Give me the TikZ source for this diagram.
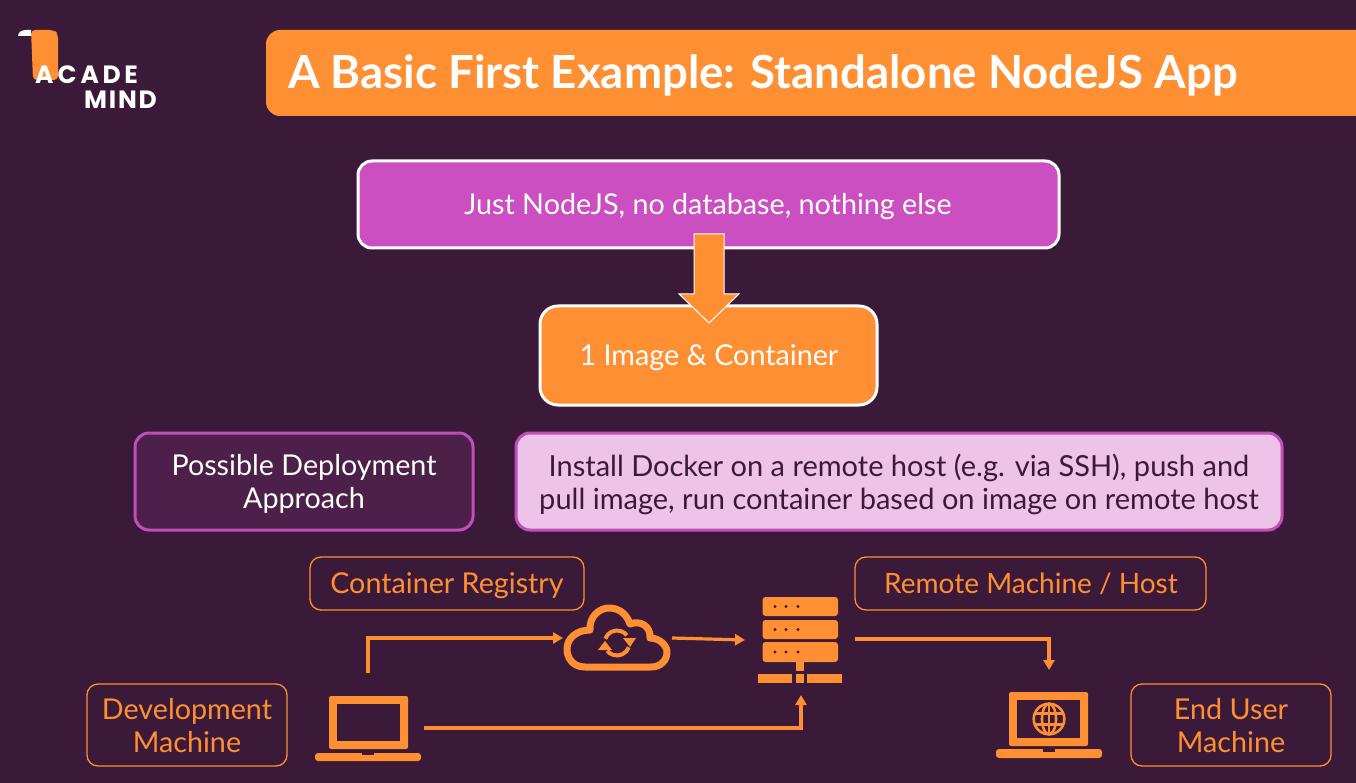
\documentclass[tikz,border=0pt]{standalone}
\usepackage{fontspec}
\setmainfont{Lato}
\newfontfamily\logofont{Poppins}
\usetikzlibrary{arrows.meta}
\definecolor{bg}{HTML}{3A1A38}
\definecolor{org}{HTML}{FF8F33}
\definecolor{pur}{HTML}{CC4FC1}
\definecolor{purb}{HTML}{BF50B8}
\definecolor{dpur}{HTML}{4C2049}
\definecolor{lpur}{HTML}{EDC3E9}
\tikzset{
  txt/.style={align=center,font=\fontsize{28.7}{33}\selectfont,inner sep=0pt},
  box/.style={rounded corners=#1,line width=3pt},
  box/.default=14pt,
  obox/.style={rounded corners=11pt,draw=org,line width=1.3pt},
  link/.style={draw=org,line width=3.2pt,-{Triangle[length=10pt,width=11pt]}},
  icon/.style={fill=org,draw=none},
  hole/.style={fill=bg,draw=none},
}
\begin{document}
\begin{tikzpicture}[x=1pt,y=-1pt]
\useasboundingbox (0,0) rectangle (1356,783);
\fill[bg] (0,0) rectangle (1356,783);
% logo
\fill[org,rounded corners=4pt] (31,30) -- (54,30) -- (58,34) -- (58,80) -- (33,80) -- cycle;
\fill[white] (18,36) .. controls (18,32) and (22,30) .. (26,30) -- (31,30) -- (31,36) -- cycle;
\node[inner sep=0pt,anchor=west,text=white] (logoa) at (35,75) {\logofont\bfseries\fontsize{25}{25}\selectfont A\kern4pt C\kern4pt A\kern3.5pt D\kern3.5pt E};
\node[inner sep=0pt,anchor=west,text=white] (logob) at (84,100) {\logofont\bfseries\fontsize{25}{25}\selectfont M\kern1.8pt I\kern1.8pt N\kern1.8pt D};
% title
\fill[org,rounded corners=14pt] (1400,30) -- (266,30) -- (266,116) -- (1400,116) -- cycle;
\node[anchor=west,inner sep=0pt,text=white] (title) at (288,75) {\fontsize{45.6}{50}\selectfont\bfseries A Basic First Example: Standalone NodeJS App};
% main boxes
\draw[box,draw=white,fill=pur] (358,161) rectangle (1059,248);
\node[txt,text=white] (just) at (708,207) {Just NodeJS, no database, nothing else};
\draw[box=18pt,draw=white,fill=org] (540,306) rectangle (877,405);
\node[txt,text=white] (one) at (709,358) {1 Image \& Container};
\draw[fill=org,draw=white,line width=1pt,line join=miter] (694,234) -- (724,234) -- (724,294) -- (739,294) -- (709,323) -- (679,294) -- (694,294) -- cycle;
\draw[box,draw=purb,fill=dpur] (135,433) rectangle (473,530);
\node[txt,text=white] (possible) at (304,484) {Possible Deployment\\Approach};
\draw[box,draw=purb,fill=lpur] (516,433) rectangle (1282,530);
\node[txt,text=bg,font=\fontsize{29}{33}\selectfont] (install) at (899,484) {Install Docker on a remote host (e.g. via SSH), push and\\pull image, run container based on image on remote host};
% outlined labels
\draw[obox] (310,557) rectangle (584,610);
\node[txt,text=org] (registry) at (447,586) {Container Registry};
\draw[obox] (855,557) rectangle (1206,610);
\node[txt,text=org,font=\fontsize{28}{33}\selectfont] (remote) at (1031,584) {Remote Machine / Host};
\draw[obox] (87,684) rectangle (287,766);
\node[txt,text=org] (dev) at (187,725.5) {Development\\Machine};
\draw[obox] (1131,684) rectangle (1331,766);
\node[txt,text=org] (enduser) at (1231,725.5) {End User\\Machine};
% laptop 1
\fill[icon,rounded corners=2pt] (329,749) -- (329,696) -- (408,696) -- (408,749) -- cycle;
\fill[hole] (337,704) rectangle (400,741);
\fill[icon,rounded corners=3pt] (315,753) -- (421,753) -- (421,761) -- (315,761) -- cycle;
\fill[hole] (362,753) rectangle (374,755);
% laptop 2
\fill[icon,rounded corners=2pt] (1009,746) -- (1009,692) -- (1088,692) -- (1088,746) -- cycle;
\fill[hole] (1017,700) rectangle (1080,738);
\fill[icon,rounded corners=3pt] (996,749) -- (1102,749) -- (1102,758) -- (996,758) -- cycle;
\fill[hole] (1043,749) rectangle (1055,751.5);
\begin{scope}[draw=org,line width=2.6pt]
\draw (1049,719) circle[radius=15.3];
\draw (1049,719) ellipse[x radius=7,y radius=15.3];
\draw (1049,703.5) -- (1049,734.5);
\draw (1036,713.5) -- (1062,713.5);
\draw (1036,724.5) -- (1062,724.5);
\end{scope}
% cloud
\draw[org,line width=7pt,line join=round]
  (585,667) .. controls (572,667) and (567,657) .. (567,649)
  .. controls (567,638) and (577,630) .. (590,630)
  .. controls (589,616) and (600,608) .. (609,608)
  .. controls (620,608) and (627,615) .. (630,624)
  .. controls (640,620) and (651,626) .. (650,638)
  .. controls (660,638) and (667,646) .. (667,652)
  .. controls (667,660) and (661,667) .. (651,667) -- cycle;
% sync arrows
\draw[org,line width=4pt] (617,643) ++(200:12.5) arc[start angle=200,end angle=322,radius=12.5];
\draw[org,line width=4pt] (617,643) ++(20:12.5) arc[start angle=20,end angle=142,radius=12.5];
\fill[org] (623,638) -- (636,638) -- (630,647) -- cycle;
\fill[org] (598,650) -- (612,650) -- (605,641) -- cycle;
% server
\foreach \a/\b in {597/616,620/639,642/662}{
  \fill[icon,rounded corners=3pt] (762.5,\a) rectangle (838,\b);
  \foreach \x in {775,786,798}{\fill[bg] (\x,{(\a+\b)/2}) circle[radius=1.6];}
}
\fill[icon] (796,662) rectangle (804,671);
\fill[icon] (758,674) rectangle (792,683);
\fill[icon] (796,674) rectangle (804,683);
\fill[icon] (807,674) rectangle (842,683);
% connector ends
\coordinate (devup) at (368,673);
\coordinate (devside) at (424,728);
\coordinate (cloudin) at (563,638);
\coordinate (cloudout) at (672,638);
\coordinate (serverin) at (745,640);
\coordinate (serverbelow) at (801,695);
\coordinate (serverout) at (855,639);
\coordinate (userin) at (1049,670);
\draw[link] (devup) |- (cloudin);
\draw[link] (cloudout) -- (serverin);
\draw[link] (devside) -| (serverbelow);
\draw[link] (serverout) -| (userin);
\end{tikzpicture}
\end{document}
